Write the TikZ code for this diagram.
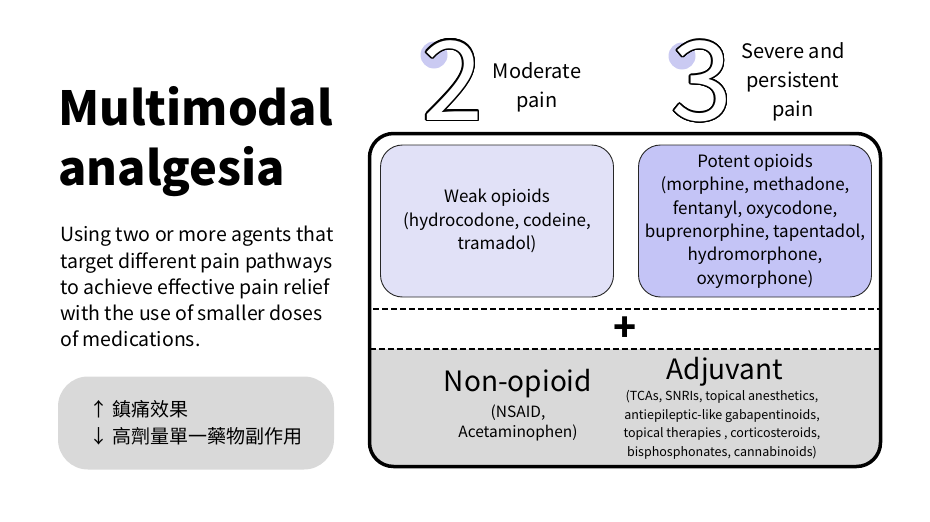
\documentclass[tikz,border=0pt]{standalone}
\usepackage{fontspec}
\setmainfont{Noto Sans CJK TC}
\usepackage[copies]{contour}
\contourlength{1.5pt}
\contournumber{24}
\usetikzlibrary{positioning, backgrounds, calc}
\definecolor{painlav}{RGB}{225,225,247}
\definecolor{painblue}{RGB}{196,196,246}
\definecolor{paindot}{RGB}{202,202,242}
\definecolor{paingray}{RGB}{217,217,217}

\begin{document}
\begin{tikzpicture}[x=1pt, y=-1pt,
  drug/.style={rectangle, rounded corners=22pt, draw=black!85, line width=0.9pt,
               minimum width=233pt, minimum height=152pt, align=center,
               font=\fontsize{17}{23.3}\selectfont},
  digit/.style={inner sep=0pt, font=\fontsize{110}{110}\selectfont},
  dot/.style={circle, fill=paindot, minimum size=27pt, inner sep=0pt},
  level/.style={align=center, font=\fontsize{20}{29}\selectfont},
  big/.style={font=\fontsize{28}{30}\selectfont},
  small/.style={align=center, font=\fontsize{12.5}{18.5}\selectfont}
]
  \useasboundingbox (0,0) rectangle (930,522);
  % left column
  \node[anchor=north west, align=left, inner sep=0pt,
        font=\fontsize{47}{60}\selectfont\bfseries] (title) at (58,86) {Multimodal\\analgesia};
  \node[anchor=north west, align=left, inner sep=0pt,
        font=\fontsize{19.5}{26.3}\selectfont] (desc) at (60,226)
    {Using two or more agents that\\target different pain pathways\\to achieve effective pain relief\\with the use of smaller doses\\of medications.};
  \node[rectangle, rounded corners=30pt, fill=paingray, minimum width=276pt,
        minimum height=93pt, align=left, font=\fontsize{19}{27}\selectfont] (note) at (196,423)
    {↑ 鎮痛效果\\↓ 高劑量單一藥物副作用};

  % pain levels
  \node[dot] (dot2) at (434,55) {};
  \node[digit] (two) at (453,81) {\color{white}\contour{black}{2}};
  \node[level] (moderate) at (537,87) {Moderate\\pain};
  \node[dot] (dot3) at (682,56) {};
  \node[digit] (three) at (702,82) {\color{white}\contour{black}{3}};
  \node[level] (severe) at (793,82) {Severe and\\persistent\\pain};

  % main frame
  \node[draw, line width=3.5pt, rounded corners=24pt, outer sep=0pt,
        minimum width=511pt, minimum height=333pt] (frame) at (625,300) {};
  \node[draw, dash pattern=on 6pt off 3pt, line width=2pt, outer sep=0pt,
        minimum width=511pt, minimum height=40pt,
        font=\fontsize{38}{38}\selectfont\bfseries] (plus) at (625,329) {+};
  \begin{scope}[on background layer]
    \clip[rounded corners=24pt] (frame.north west) rectangle (frame.south east);
    \fill[paingray] (plus.south west) rectangle (frame.south east);
  \end{scope}

  % opioids
  \node[drug, fill=painlav] (weak) at (497,221)
    {Weak opioids\\(hydrocodone, codeine,\\tramadol)};
  \node[drug, fill=painblue] (potent) at (755,221)
    {Potent opioids\\(morphine, methadone,\\fentanyl, oxycodone,\\buprenorphine, tapentadol,\\hydromorphone,\\oxymorphone)};

  % non-opioid and adjuvant
  \node[big] (nonop) at (518,384) {Non-opioid};
  \node[align=center, font=\fontsize{15.5}{20}\selectfont] (nsaid) at (518,423)
    {(NSAID,\\Acetaminophen)};
  \node[big] (adjuvant) at (725,372) {Adjuvant};
  \node[small] (adjlist) at (722,425)
    {(TCAs, SNRIs, topical anesthetics,\\antiepileptic-like gabapentinoids,\\topical therapies , corticosteroids,\\bisphosphonates, cannabinoids)};
\end{tikzpicture}
\end{document}
